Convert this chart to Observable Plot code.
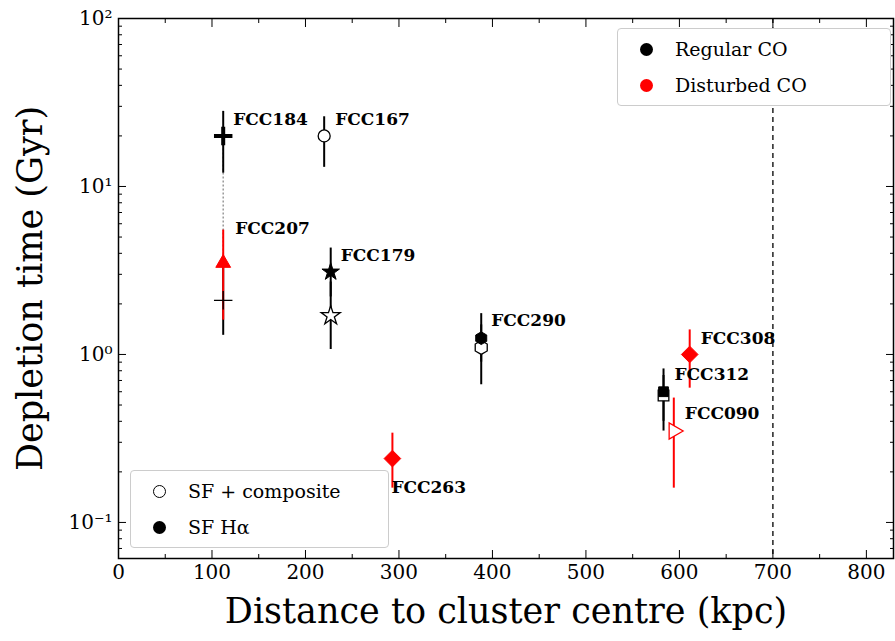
<!DOCTYPE html>
<html><head><meta charset="utf-8">
<script src="https://cdn.jsdelivr.net/npm/d3@7"></script>
<script src="https://cdn.jsdelivr.net/npm/@observablehq/plot@0.6"></script>
<style>
body{margin:0;background:#fff;font-family:"DejaVu Serif",serif}
#wrap{position:relative;width:895px;height:641px}
.leg{position:absolute;background:#fff;border:1px solid #ccc;border-radius:4px;font-family:"DejaVu Serif",serif;font-size:19px}
.leg div{display:flex;align-items:center;height:36px}
.leg span.m{display:inline-block;width:13px;height:13px;border-radius:50%;margin:0 22px 0 22px;box-sizing:border-box}
</style></head>
<body><div id="wrap"><div id="chart"></div>
<div class="leg" style="left:617px;top:28px;width:272px;padding:2px 0">
  <div><span class="m" style="background:#000"></span>Regular CO</div>
  <div><span class="m" style="background:#f00"></span>Disturbed CO</div>
</div>
<div class="leg" style="left:130px;top:470px;width:257px;padding:2px 0">
  <div><span class="m" style="border:1.5px solid #000"></span>SF + composite</div>
  <div><span class="m" style="background:#000"></span>SF Hα</div>
</div>
</div>
<script>
// values
const galaxies = ["FCC184","FCC167","FCC207","FCC179","FCC290","FCC308","FCC312","FCC090","FCC263"]
const distance = [112, 220, 112, 227, 388, 611, 583, 594, 293]
const coColor  = ["black","black","red","black","black","red","black","red","red"]
const symbols  = ["plus","circle","triangle","star","hexagon","diamond2","square","triangle","diamond2"]
// SF H-alpha (filled) depletion times
const haT  = [20, null, 3.5, 3.1, 1.25, 1.0, 0.6, null, 0.24]
const haLo = [12, null, 1.6, 2.2, 0.9, 0.63, 0.35, null, 0.16]
const haHi = [28, null, 5.5, 4.3, 1.75, 1.4, 0.82, null, 0.34]
// SF + composite (open) depletion times
const sfT  = [null, 20, 2.1, 1.7, 1.1, null, 0.57, 0.35, null]
const sfLo = [null, 13, 1.3, 1.07, 0.66, null, 0.4, 0.16, null]
const sfHi = [null, 26, 3.3, 2.7, 1.5, null, 0.75, 0.55, null]
const sfColor = ["black","black","black","black","black","black","black","red","black"]
const sfSymbol = ["plus","circle","plus","star","hexagon","diamond2","square","triangle","diamond2"]
const labelOffset = {FCC184:[10,-16],FCC167:[11,-16],FCC207:[12,-35],FCC179:[10,-16],FCC290:[10,-18],
  FCC308:[11,-16],FCC312:[11,-17],FCC090:[11,-18],FCC263:[-1,29]}

const filled = galaxies.map((g,i)=>({g,x:distance[i],y:haT[i],lo:haLo[i],hi:haHi[i],c:coColor[i],s:symbols[i]})).filter(d=>d.y!=null)
const open = galaxies.map((g,i)=>({g,x:distance[i],y:sfT[i],lo:sfLo[i],hi:sfHi[i],c:sfColor[i],s:sfSymbol[i],r:g==="FCC090"?90:0})).filter(d=>d.y!=null)
const labels = galaxies.map((g,i)=>({g,x:distance[i],y:haT[i]??sfT[i]}))

const sup = {"2":"²","1":"¹","0":"⁰","-1":"⁻¹"}
const major = [0.1,1,10,100]
const minor = []
for (const p of [0.01,0.1,1,10]) for (let k=2;k<=9;k++) if (k*p>0.06 && k*p<100) minor.push(k*p)
const font = "DejaVu Serif"
const blank = () => ""

const chart = Plot.plot({
  width: 895, height: 641,
  marginLeft: 118, marginRight: 2, marginTop: 18, marginBottom: 83,
  style: {fontFamily: font, fontSize: "20px", color: "black"},
  x: {domain: [0, 829]},
  y: {type: "log", domain: [0.061, 100]},
  marks: [
    Plot.frame({stroke: "black", strokeWidth: 1.5}),
    Plot.axisX({ticks: d3.range(0,801,100), tickSize: -8, tickPadding: 14, fontSize: 20, label: null}),
    Plot.axisX({anchor: "top", ticks: d3.range(0,801,100), tickSize: -8, tickFormat: blank, label: null}),
    Plot.axisX({ticks: d3.range(50,801,100), tickSize: -4, tickFormat: blank, label: null}),
    Plot.axisX({anchor: "top", ticks: d3.range(50,801,100), tickSize: -4, tickFormat: blank, label: null}),
    Plot.axisY({ticks: major, tickSize: -8, tickPadding: 14, fontSize: 20, tickFormat: d => "10" + sup[Math.round(Math.log10(d))], label: null}),
    Plot.axisY({anchor: "right", ticks: major, tickSize: -8, tickFormat: blank, label: null}),
    Plot.axisY({ticks: minor, tickSize: -4, tickFormat: blank, label: null}),
    Plot.axisY({anchor: "right", ticks: minor, tickSize: -4, tickFormat: blank, label: null}),
    Plot.text(["Distance to cluster centre (kpc)"], {frameAnchor: "bottom", dy: 64, fontSize: 35, fill: "black"}),
    Plot.text(["Depletion time (Gyr)"], {frameAnchor: "left", dx: -88, rotate: -90, textAnchor: "middle", fontSize: 35, fill: "black"}),
    Plot.ruleX([700], {stroke: "black", strokeDasharray: "5,4", strokeWidth: 1.3}),
    Plot.ruleX([112], {y1: 3.5, y2: 20, stroke: "#999", strokeDasharray: "2,2", strokeWidth: 1.5}),
    Plot.ruleX(open, {x: "x", y1: "lo", y2: "hi", stroke: "c", strokeWidth: 2}),
    Plot.ruleX(filled, {x: "x", y1: "lo", y2: "hi", stroke: "c", strokeWidth: 2}),
    Plot.dot(open, {x: "x", y: "y", symbol: "s", stroke: "c", fill: "white", r: 6, strokeWidth: 1.3, rotate: "r"}),
    Plot.dot(filled.filter(d => d.s !== "plus" && d.s !== "diamond2"), {x: "x", y: "y", symbol: "s", fill: "c", stroke: "c", r: 5.5, strokeWidth: 1}),
    Plot.dot(filled.filter(d => d.s === "diamond2"), {x: "x", y: "y", symbol: "s", fill: "c", stroke: "c", r: 7.5, strokeWidth: 1}),
    Plot.dot(filled.filter(d => d.s === "plus"), {x: "x", y: "y", symbol: "plus", stroke: "c", r: 6, strokeWidth: 4}),
    ...labels.map(d => Plot.text([d], {x: "x", y: "y", text: "g", dx: labelOffset[d.g][0], dy: labelOffset[d.g][1], textAnchor: "start", fontWeight: "bold", fontSize: 17, fill: "black"}))
  ]
})
d3.select("#chart").append(() => chart)
</script></body></html>
